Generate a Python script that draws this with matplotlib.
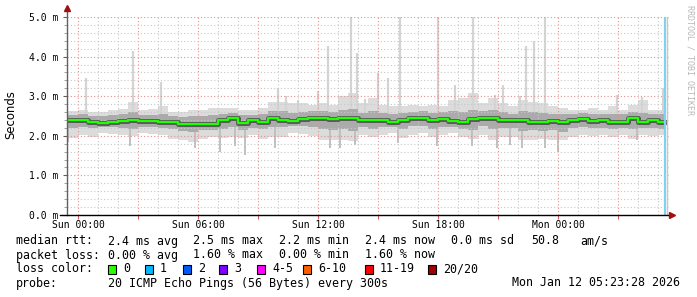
import numpy as np
import matplotlib
matplotlib.use("Agg")
import matplotlib.pyplot as plt

W, H = 697, 297
MONO = "DejaVu Sans Mono"

# hours after Sun 00:00, one bin per 30 minutes
BIN_HOURS = 0.5
START_HOUR = -0.5
END_HOUR = 29.33   # last sample (blue rule)

# median rtt per bin (ms)
median = [2.40, 2.39, 2.36, 2.33, 2.36, 2.38, 2.41, 2.38, 2.38, 2.36,
          2.36, 2.30, 2.30, 2.30, 2.30, 2.40, 2.44, 2.33, 2.40, 2.36,
          2.44, 2.40, 2.38, 2.42, 2.46, 2.46, 2.42, 2.44, 2.46, 2.40,
          2.40, 2.39, 2.36, 2.40, 2.44, 2.46, 2.40, 2.42, 2.38, 2.36,
          2.42, 2.46, 2.46, 2.40, 2.39, 2.40, 2.36, 2.36, 2.38, 2.35,
          2.40, 2.42, 2.38, 2.39, 2.35, 2.36, 2.44, 2.34, 2.40, 2.36]

# light smoke (outer pings)
outer_hi = [2.62, 2.65, 2.61, 2.61, 2.65, 2.67, 2.85, 2.65, 2.67, 2.75,
            2.61, 2.61, 2.65, 2.65, 2.70, 2.70, 2.69, 2.65, 2.65, 2.69,
            2.86, 2.86, 2.82, 2.82, 2.78, 2.82, 2.78, 3.00, 3.07, 2.82,
            2.95, 2.78, 2.74, 2.74, 2.78, 2.74, 2.78, 2.74, 2.90, 2.95,
            3.07, 2.82, 2.95, 2.82, 2.74, 2.90, 2.86, 2.82, 2.74, 2.69,
            2.65, 2.65, 2.69, 2.65, 2.74, 2.65, 2.78, 2.90, 2.65, 2.65]
outer_lo = [1.95, 2.02, 1.98, 2.06, 2.04, 2.02, 2.00, 2.06, 2.04, 2.02,
            1.93, 1.89, 1.85, 1.93, 1.97, 1.95, 1.98, 1.95, 2.02, 1.93,
            1.98, 1.98, 2.06, 2.04, 2.00, 1.90, 1.90, 1.89, 1.88, 2.02,
            1.97, 2.02, 2.06, 1.95, 2.02, 2.06, 1.98, 2.02, 2.06, 1.98,
            1.92, 2.02, 1.90, 1.98, 1.98, 1.90, 1.90, 1.92, 1.89, 1.90,
            1.98, 2.02, 2.00, 2.02, 1.98, 2.02, 1.93, 2.02, 2.00, 2.02]

# medium smoke
mid_hi = [2.52, 2.54, 2.50, 2.50, 2.53, 2.55, 2.60, 2.52, 2.53, 2.56,
          2.50, 2.48, 2.50, 2.50, 2.52, 2.55, 2.58, 2.52, 2.53, 2.55,
          2.62, 2.62, 2.58, 2.60, 2.62, 2.62, 2.60, 2.66, 2.68, 2.58,
          2.62, 2.58, 2.55, 2.58, 2.60, 2.62, 2.58, 2.60, 2.62, 2.60,
          2.66, 2.62, 2.64, 2.60, 2.56, 2.62, 2.60, 2.58, 2.56, 2.55,
          2.56, 2.58, 2.55, 2.56, 2.55, 2.54, 2.60, 2.58, 2.56, 2.54]
mid_lo = [2.20, 2.22, 2.20, 2.22, 2.22, 2.20, 2.18, 2.22, 2.22, 2.20,
          2.16, 2.12, 2.10, 2.14, 2.14, 2.18, 2.22, 2.14, 2.20, 2.16,
          2.22, 2.22, 2.24, 2.24, 2.22, 2.16, 2.14, 2.16, 2.12, 2.22,
          2.18, 2.22, 2.22, 2.16, 2.24, 2.26, 2.18, 2.22, 2.22, 2.18,
          2.14, 2.24, 2.16, 2.20, 2.20, 2.12, 2.14, 2.12, 2.14, 2.10,
          2.20, 2.22, 2.20, 2.20, 2.18, 2.20, 2.16, 2.20, 2.20, 2.18]

# narrow upward spikes: hour, top (ms)
spike_hours = [0.4, 2.75, 4.15, 10.0, 10.4, 11.0, 12.0, 12.5, 13.65, 13.95,
               14.35, 15.0, 15.5, 16.1, 18.0, 18.85, 19.75, 20.85, 21.25, 22.1,
               22.4, 22.8, 23.35, 26.95, 28.2, 29.25]
spike_tops = [3.45, 4.15, 3.37, 3.20, 3.00, 2.90, 3.12, 4.27, 5.05, 4.10,
              2.94, 3.58, 3.45, 5.05, 5.05, 3.28, 5.05, 3.03, 3.28, 3.00,
              4.27, 4.39, 5.05, 3.03, 2.98, 3.20]

# narrow downward dips: hour, bottom (ms)
dip_hours = [-0.5, 2.6, 5.85, 7.1, 7.85, 8.35, 9.85, 12.6, 13.1, 13.85,
             16.0, 17.95, 19.7, 20.95, 21.6, 22.2, 23.35, 24.0, 27.95]
dip_bottoms = [1.85, 1.75, 1.69, 1.60, 1.75, 1.52, 1.69, 1.69, 1.68, 1.76,
               1.81, 1.73, 1.73, 1.68, 1.76, 1.68, 1.68, 1.60, 1.90]

y_ticks = [0, 1, 2, 3, 4, 5]
x_tick_hours = [0, 6, 12, 18, 24]
x_tick_labels = ["Sun 00:00", "Sun 06:00", "Sun 12:00", "Sun 18:00", "Mon 00:00"]

loss_labels = ["0", "1", "2", "3", "4-5", "6-10", "11-19", "20/20"]
loss_colors = ["#26ff00", "#00b8ff", "#0059ff", "#7e00ff", "#ff00ff",
               "#ff5e00", "#ff0000", "#a10000"]
loss_box_x = [108, 145, 183, 219, 257, 303, 365, 428]

stat_lines = [
    ("median rtt:", [(108, "2.4 ms avg"), (193, "2.5 ms max"), (279, "2.2 ms min"),
                     (365, "2.4 ms now"), (451, "0.0 ms sd"), (531, "50.8"), (580, "am/s")]),
    ("packet loss:", [(108, "0.00 % avg"), (193, "1.60 % max"), (279, "0.00 % min"),
                      (365, "1.60 % now")]),
]

TICK_FS = 7.0
LEGEND_FS = 8.4


def ftext(x, y, s, **kw):
    """Place text using pixel coords from top-left."""
    kw.setdefault("family", MONO)
    kw.setdefault("fontsize", LEGEND_FS)
    kw.setdefault("va", "center")
    return fig.text(x / W, 1 - y / H, s, **kw)


fig = plt.figure(figsize=(W / 100, H / 100), dpi=100)
fig.patch.set_facecolor("white")
ax = fig.add_axes([67 / W, (H - 215) / H, (669 - 67) / W, (215 - 17) / H])
x0, x1 = -0.55, 29.55
ax.set_xlim(x0, x1)
ax.set_ylim(0, 5.0)

n = len(median)
edges = START_HOUR + BIN_HOURS * np.arange(n + 1)
edges[-1] = END_HOUR


def ext(a):
    return np.append(a, a[-1])


ax.fill_between(edges, ext(outer_lo), ext(outer_hi), step="post",
                color="#dcdcdc", lw=0, zorder=1)
ax.vlines(spike_hours, 2.5, spike_tops, color="#d4d4d4", lw=1.6, zorder=1)
ax.vlines(dip_hours, dip_bottoms, 2.3, color="#c0c0c0", lw=1.4, zorder=1)
ax.fill_between(edges, ext(mid_lo), ext(mid_hi), step="post",
                color="#ababab", lw=0, zorder=2)
ax.step(edges, ext(median), where="post", color="#5a5a5a", lw=3.6, zorder=3)
ax.step(edges, ext(median), where="post", color="#20ff00", lw=1.6, zorder=4)

# end-of-data rules
ax.axvline(END_HOUR, ymax=5.05 / 5.0, color="#80d0f0", lw=1.6, zorder=5)
ax.axvline(END_HOUR + 0.1, color="#c8c8c0", lw=1.0, zorder=5)

# grid
ax.set_yticks(y_ticks)
ax.set_yticks(np.arange(0, 5.01, 0.2), minor=True)
ax.set_xticks(np.arange(0, 29.6, 3))
ax.set_xticks(np.arange(0, 29.6, 1), minor=True)
ax.grid(which="minor", color="#c8c8c8", linestyle=(0, (1, 2)), lw=0.8, zorder=6)
ax.grid(which="major", color="#e89090", linestyle=(0, (1, 2)), lw=0.8, zorder=6)
ax.set_axisbelow(False)

ax.set_yticklabels([f"{v:.1f} m" for v in y_ticks], family=MONO, fontsize=TICK_FS)
ax.set_xticklabels([])
for h, lab in zip(x_tick_hours, x_tick_labels):
    ax.text(h, -0.05, lab, transform=ax.get_xaxis_transform(), family=MONO,
            fontsize=TICK_FS, ha="center", va="center")
ax.tick_params(axis="y", which="major", length=3, color="#606060", pad=3)
ax.tick_params(axis="y", which="minor", length=2, color="#909090")
ax.tick_params(axis="x", which="major", length=3, color="#d06060")
ax.tick_params(axis="x", which="minor", length=0)

for s in ax.spines.values():
    s.set_visible(False)
# axes lines with arrows
ax.plot([x0, x0], [0, 5.22], color="#606060", lw=1.0, clip_on=False, zorder=7)
ax.plot([x0 - 0.35, x1], [0, 0], color="#000000", lw=1.0, clip_on=False, zorder=7)
ax.plot([x0], [5.22], marker="^", ms=4, color="#a01010", clip_on=False, zorder=8)
ax.plot([x1 + 0.15], [0], marker=">", ms=4, color="#a01010", clip_on=False, zorder=8)

fig.text(11 / W, 1 - 115 / H, "Seconds", rotation=90, family="DejaVu Sans",
         fontsize=LEGEND_FS, ha="center", va="center")
ftext(690, 5, "RRDTOOL / TOBI OETIKER", rotation=270, fontsize=6, color="#b8b8b8",
      ha="center", va="top")

# legend / statistics
rows_y = [241, 255, 269, 283]
for (head, parts), y in zip(stat_lines, rows_y):
    ftext(16, y, head)
    for x, s in parts:
        ftext(x, y, s)

ftext(16, rows_y[2], "loss color:")
for bx, col, lab in zip(loss_box_x, loss_colors, loss_labels):
    fig.patches.append(plt.Rectangle((bx / W, 1 - (rows_y[2] + 4.5) / H), 8 / W, 9 / H,
                                     transform=fig.transFigure, facecolor=col,
                                     edgecolor="black", lw=0.8))
    ftext(bx + 15, rows_y[2], lab)

ftext(16, rows_y[3], "probe:")
ftext(108, rows_y[3], "20 ICMP Echo Pings (56 Bytes) every 300s")
ftext(680, rows_y[3], "Mon Jan 12 05:23:28 2026", ha="right")

fig.savefig("out.png", dpi=100)
